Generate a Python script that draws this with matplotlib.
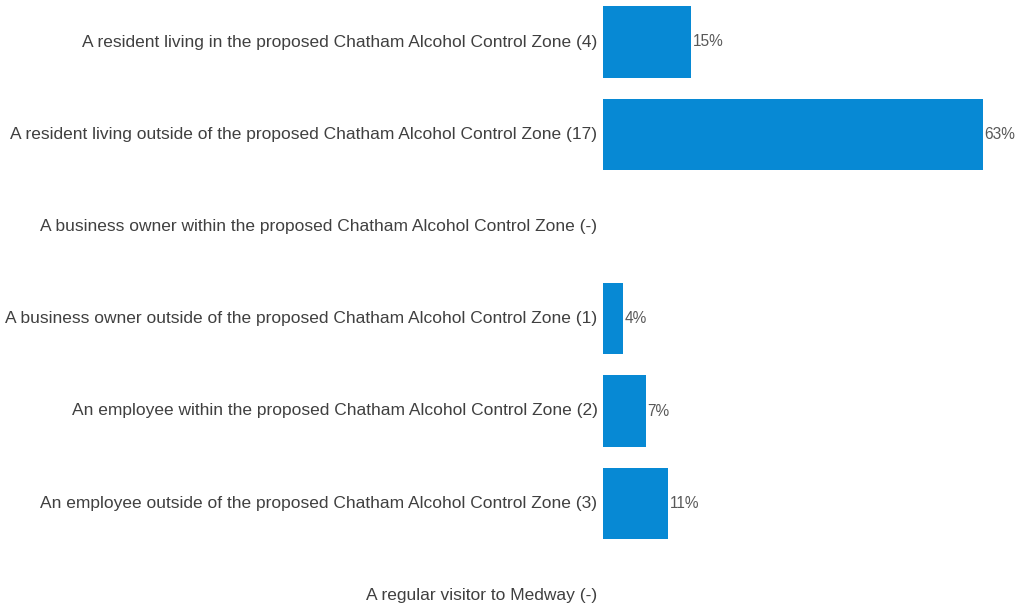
import matplotlib
matplotlib.use("Agg")
import matplotlib.pyplot as plt

categories = [
    "A resident living in the proposed Chatham Alcohol Control Zone (4)",
    "A resident living outside of the proposed Chatham Alcohol Control Zone (17)",
    "A business owner within the proposed Chatham Alcohol Control Zone (-)",
    "A business owner outside of the proposed Chatham Alcohol Control Zone (1)",
    "An employee within the proposed Chatham Alcohol Control Zone (2)",
    "An employee outside of the proposed Chatham Alcohol Control Zone (3)",
    "A regular visitor to Medway (-)",
]
counts = [4, 17, 0, 1, 2, 3, 0]
total = sum(counts)
percents = [c / total * 100 for c in counts]

plt.rcParams['font.family'] = ['Liberation Sans', 'DejaVu Sans']

W, H = 1016, 607
fig = plt.figure(figsize=(W / 100, H / 100), dpi=100)
ax = fig.add_axes([603 / W, 0, 380 / W, 1])

ys = list(range(len(categories)))
ax.barh(ys, percents, height=0.77, color="#0789d4")
pmax = max(percents)
ppx = pmax / (983 - 601)          # percent per pixel
ax.set_xlim(2 * ppx, pmax)
step = (595.5 - 42) / 6
ax.set_ylim(6 + (607 - 595.5) / step, -42 / step)

for y, p, c in zip(ys, percents, counts):
    ax.text(2 * ppx - 5.5 * ppx, y, categories[y], ha="right", va="center",
            fontsize=12.5, color="#404040")
    if c > 0:
        ax.text(p + 1.5 * ppx, y, f"{round(p)}%", ha="left", va="center",
                fontsize=11.2, color="#595959")

ax.axis("off")
fig.savefig("out.png", dpi=100)
